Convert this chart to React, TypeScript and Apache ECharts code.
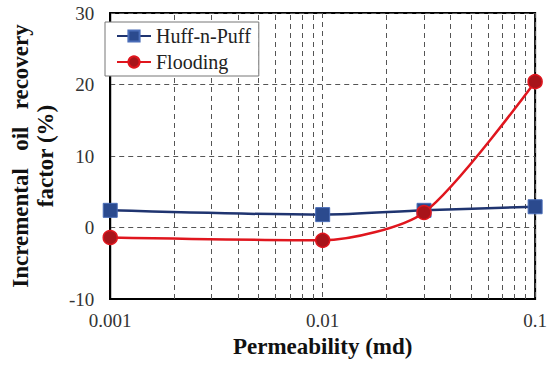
import React, { useEffect, useRef } from "react";
import * as echarts from "echarts";

const permeability = [0.001, 0.01, 0.03, 0.1];
const huffNPuff = [2.4, 1.8, 2.4, 2.9];
const flooding = [-1.4, -1.8, 2.1, 20.4];
const minorGridValues = [
  0.002, 0.003, 0.004, 0.005, 0.006, 0.007, 0.008, 0.009,
  0.02, 0.03, 0.04, 0.05, 0.06, 0.07, 0.08, 0.09,
];
const yTicks = { min: -10, max: 30, interval: 10 };

const FONT = "'Liberation Serif', 'Times New Roman', serif";

export default function App() {
  const ref = useRef<HTMLDivElement>(null);
  useEffect(() => {
    if (!ref.current) return;
    const chart = echarts.init(ref.current, undefined, { renderer: "svg" });
    const gridDash = { color: "#555", width: 1, type: [5, 4] as number[] };
    chart.setOption({
      animation: false,
      backgroundColor: "#fff",
      grid: {
        left: 99,
        right: 14,
        top: 13,
        bottom: 67,
        show: true,
        borderColor: "#000",
        borderWidth: 2,
        backgroundColor: "transparent",
      },
      legend: {
        orient: "vertical",
        left: 105,
        top: 22,
        backgroundColor: "#fff",
        borderColor: "#777",
        borderWidth: 1,
        borderRadius: 0,
        padding: [4, 8, 4, 11],
        itemGap: 6,
        itemWidth: 34,
        itemHeight: 14,
        textStyle: { fontFamily: FONT, fontSize: 20, color: "#222" },
        data: ["Huff-n-Puff", "Flooding"],
      },
      xAxis: {
        type: "log",
        logBase: 10,
        min: 0.001,
        max: 0.1,
        name: "Permeability (md)",
        nameLocation: "middle",
        nameGap: 33,
        nameTextStyle: { fontFamily: FONT, fontSize: 23, fontWeight: "bold", color: "#111" },
        axisLine: { onZero: false, lineStyle: { color: "#000", width: 2 } },
        axisTick: { show: false },
        axisLabel: {
          fontFamily: FONT,
          fontSize: 19,
          color: "#333",
          margin: 12,
          formatter: (v: number) => String(Number(v.toPrecision(3))),
        },
        splitLine: { show: true, lineStyle: gridDash },
      },
      yAxis: {
        type: "value",
        min: yTicks.min,
        max: yTicks.max,
        interval: yTicks.interval,
        name: "Incremental   oil   recovery\nfactor (%)",
        nameLocation: "middle",
        nameGap: 38,
        nameTextStyle: {
          fontFamily: FONT,
          fontSize: 23,
          fontWeight: "bold",
          color: "#111",
          lineHeight: 25,
        },
        axisLine: { show: true, onZero: false, lineStyle: { color: "#000", width: 2 } },
        axisTick: { show: false },
        axisLabel: { fontFamily: FONT, fontSize: 19, color: "#333", margin: 16 },
        splitLine: { show: true, lineStyle: gridDash },
      },
      series: [
        {
          name: "Huff-n-Puff",
          type: "line",
          data: permeability.map((x, i) => [x, huffNPuff[i]]),
          smooth: 0.3,
          symbol: "rect",
          symbolSize: 14,
          z: 3,
          lineStyle: { color: "#1F3470", width: 2.5 },
          itemStyle: { color: "#2B4A8E", borderColor: "#4A6DB8", borderWidth: 1 },
          markLine: {
            silent: true,
            symbol: "none",
            precision: 6,
            label: { show: false },
            lineStyle: gridDash,
            z: 1,
            data: minorGridValues.map((v) => ({ xAxis: v })),
          },
        },
        {
          name: "Flooding",
          type: "line",
          data: permeability.map((x, i) => [x, flooding[i]]),
          smooth: 0.25,
          symbol: "circle",
          symbolSize: 14,
          z: 4,
          lineStyle: { color: "#E0161E", width: 2.5 },
          itemStyle: { color: "#A8141A", borderColor: "#E0161E", borderWidth: 1.5 },
        },
      ],
    });
    return () => chart.dispose();
  }, []);
  return (
    <div
      ref={ref}
      style={{ width: 550, height: 366, position: "fixed", left: 0, top: 0 }}
    />
  );
}
